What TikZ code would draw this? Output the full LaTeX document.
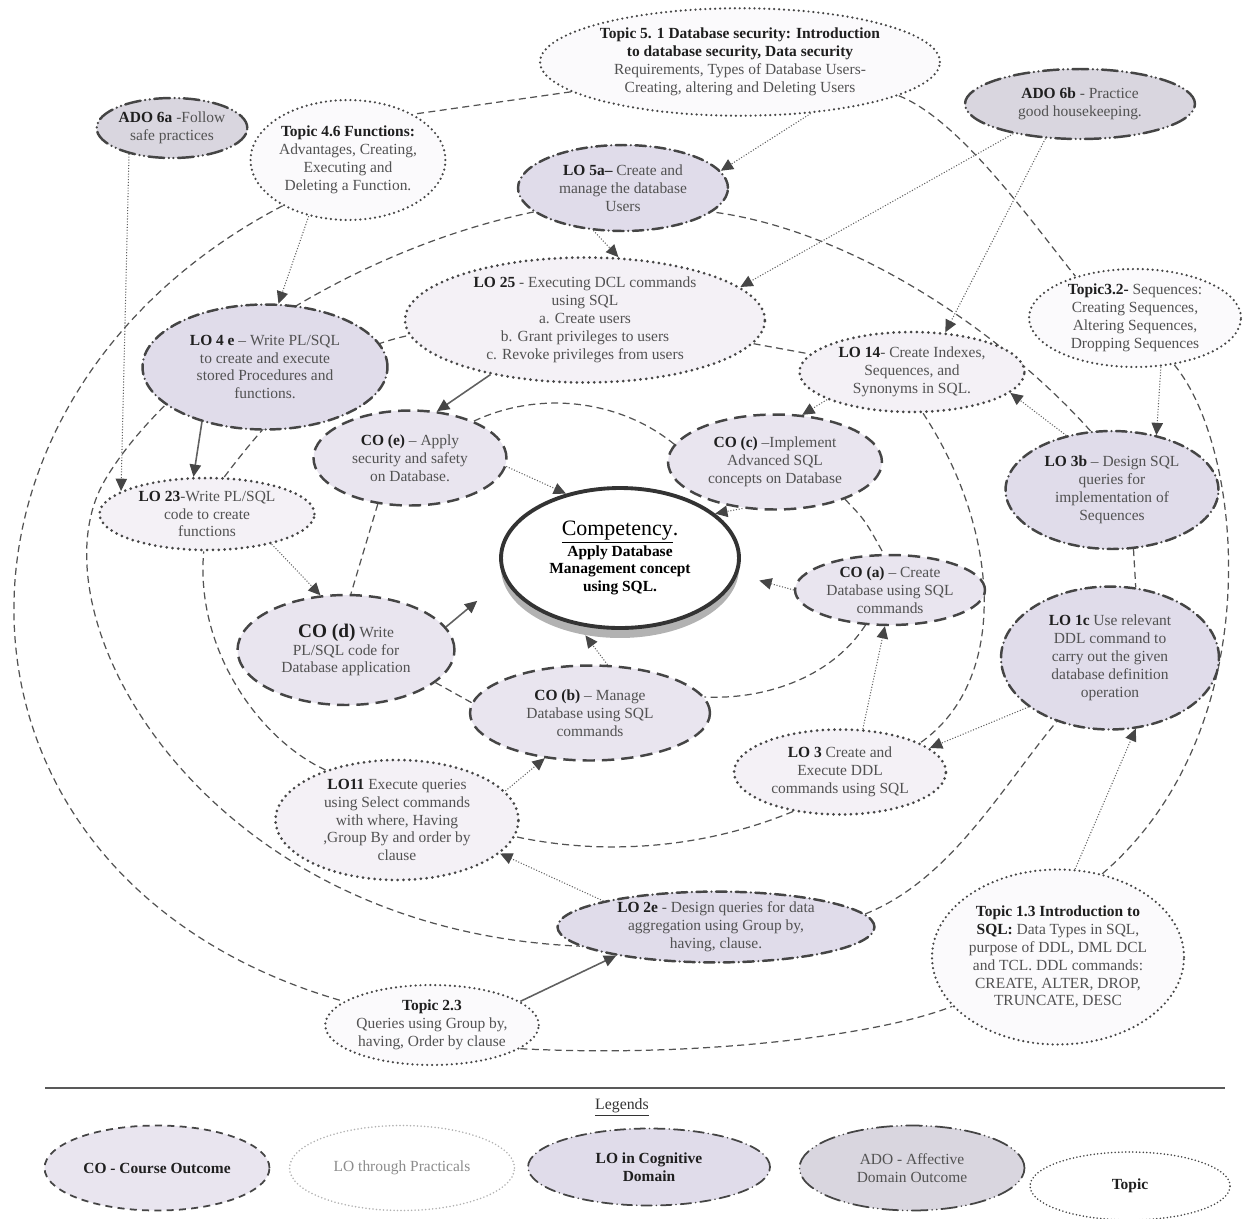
\documentclass[tikz,border=0pt]{standalone}
\usepackage{fontspec}
\setmainfont{Liberation Serif}
\usetikzlibrary{shapes.geometric,arrows.meta,backgrounds,shadows}

\definecolor{edge}{HTML}{454545}
\definecolor{cofill}{HTML}{E9E5EF}
\definecolor{locfill}{HTML}{E0DCEA}
\definecolor{lopfill}{HTML}{F4F1F6}
\definecolor{adofill}{HTML}{D9D6DF}
\definecolor{topfill}{HTML}{FBFAFC}

\tikzstyle{oval} = [ellipse, inner sep=0pt, align=center, font=\fontsize{8.8}{10.2}\selectfont, text=black!68]
\tikzstyle{co} = [oval, draw=edge, fill=cofill, line width=1.4pt, dash pattern=on 7pt off 4pt]
\tikzstyle{lop} = [oval, draw=edge, fill=lopfill, line width=1.7pt, line cap=round, dash pattern=on 0pt off 3.3pt]
\tikzstyle{loc} = [oval, draw=edge, fill=locfill, line width=1.4pt, line cap=round, dash pattern=on 6pt off 2.6pt on 0pt off 2.6pt]
\tikzstyle{ado} = [oval, draw=edge, fill=adofill, line width=1.4pt, line cap=round, dash pattern=on 9pt off 2.6pt on 0pt off 2.6pt on 0pt off 2.6pt]
\tikzstyle{topic} = [oval, draw=edge, fill=topfill, line width=1.4pt, line cap=round, dash pattern=on 0pt off 2.8pt]
\tikzstyle{comp} = [oval, draw=black!80, fill=white, line width=2.2pt, text=black, drop shadow={shadow xshift=0pt, shadow yshift=-0.2cm, fill=gray!60, opacity=1}]
\tikzstyle{ring} = [draw=gray!65!black, line width=0.7pt, dash pattern=on 4pt off 2.5pt]
\tikzstyle{link} = [draw=gray!75!black, line width=0.6pt, densely dotted, -{Triangle[length=7pt, width=6.5pt, color=gray!55!black]}]
\tikzstyle{slink} = [link, solid, line width=0.9pt]

\newcommand{\hd}[1]{\textbf{\color{black!88}#1}}

\begin{document}
\begin{tikzpicture}[x=0.02cm, y=-0.02cm]
\useasboundingbox (0,0) rectangle (1244,1218);

\node[topic, minimum width=8.0cm, minimum height=2.15cm] (t51) at (740,62) {\hd{Topic 5. 1 Database security: Introduction}\\ \hd{to database security, Data security}\\ Requirements, Types of Database Users-\\ Creating, altering and Deleting Users};
\node[ado, minimum width=2.84cm, minimum height=1.2cm] (ado6a) at (172,128) {\hd{ADO 6a} -Follow\\ safe practices};
\node[topic, minimum width=3.7cm, minimum height=2.4cm] (t46) at (348,160) {\hd{Topic 4.6 Functions:}\\ Advantages, Creating,\\ Executing and\\ Deleting a Function.};
\node[ado, minimum width=4.6cm, minimum height=1.4cm] (ado6b) at (1080,104) {\hd{ADO 6b} - Practice\\ good housekeeping.};
\node[loc, minimum width=4.2cm, minimum height=1.72cm] (lo5a) at (623,188) {\hd{LO 5a--} Create and\\ manage the database\\ Users};
\node[lop, minimum width=7.2cm, minimum height=2.5cm] (lo25) at (585,320) {\hd{LO 25} - Executing DCL commands\\ using SQL\\ a. Create users\\ b. Grant privileges to users\\ c. Revoke privileges from users};
\node[topic, minimum width=4.24cm, minimum height=1.96cm] (t32) at (1135,318) {\hd{Topic3.2-} Sequences:\\ Creating Sequences,\\ Altering Sequences,\\ Dropping Sequences};
\node[loc, minimum width=4.9cm, minimum height=2.5cm] (lo4e) at (265,367) {\hd{LO 4 e} -- Write PL/SQL\\ to create  and execute\\ stored Procedures and\\ functions.};
\node[lop, minimum width=4.5cm, minimum height=1.6cm] (lo14) at (912,372) {\hd{LO 14}- Create Indexes,\\ Sequences, and\\ Synonyms in SQL.};
\node[co, minimum width=3.86cm, minimum height=1.9cm] (coe) at (410,458) {\hd{CO (e)} -- Apply\\ security and safety\\ on Database.};
\node[co, minimum width=4.28cm, minimum height=1.9cm] (coc) at (775,462) {\hd{CO (c)} --Implement\\ Advanced SQL\\ concepts on Database};
\node[loc, minimum width=4.26cm, minimum height=2.36cm] (lo3b) at (1112,490) {\hd{LO 3b} -- Design SQL\\ queries for\\ implementation of\\ Sequences};
\node[lop, minimum width=4.3cm, minimum height=1.44cm] (lo23) at (207,514) {\hd{LO 23}-Write PL/SQL\\ code to create\\ functions};
\node[comp, minimum width=4.76cm, minimum height=2.8cm] (comp) at (620,558) {{\fontsize{12.5}{14}\selectfont\underline{Competency}.}\\ \textbf{Apply Database}\\ \textbf{Management concept}\\ \textbf{using SQL.}};
\node[co, minimum width=3.8cm, minimum height=1.4cm] (coa) at (890,590) {\hd{CO (a)} -- Create\\ Database using SQL\\ commands};
\node[loc, minimum width=4.36cm, minimum height=2.86cm] (lo1c) at (1110,658) {\hd{LO 1c} Use relevant\\ DDL command to\\ carry out the given\\ database definition\\ operation};
\node[co, minimum width=4.34cm, minimum height=2.2cm] (cod) at (346,650) {\hd{\fontsize{11}{12}\selectfont CO (d)} Write\\ PL/SQL code for\\ Database application};
\node[co, minimum width=4.8cm, minimum height=1.9cm] (cob) at (590,713) {\hd{CO (b)} -- Manage\\ Database using SQL\\ commands};
\node[lop, minimum width=4.24cm, minimum height=1.7cm] (lo3) at (840,772) {\hd{LO 3} Create and\\ Execute DDL\\ commands using SQL};
\node[lop, minimum width=4.86cm, minimum height=2.4cm] (lo11) at (397,820) {\hd{LO11} Execute queries\\ using Select commands\\ with where, Having\\ ,Group By and order by\\ clause};
\node[loc, minimum width=6.34cm, minimum height=1.36cm] (lo2e) at (716,927) {\hd{LO 2e} - Design queries for data\\ aggregation using Group by,\\ having, clause.};
\node[topic, minimum width=4.7cm, minimum height=3.5cm] (t13) at (1058,957) {\hd{Topic 1.3  Introduction to}\\ \hd{SQL:} Data Types in SQL,\\ purpose of DDL, DML DCL\\ and TCL.  DDL commands:\\ CREATE, ALTER, DROP,\\ TRUNCATE, DESC};
\node[topic, minimum width=4.1cm, minimum height=1.6cm] (t23) at (432,1025) {\hd{Topic 2.3}\\ Queries using Group by,\\ having, Order by clause};

\begin{pgfonlayer}{background}
\draw[ring] (t51.190) -- (t46.35);
\draw[ring] (t46.215) .. controls (-90,400) and (-80,880) .. (t23.165);
\draw[ring] (t23.-15) .. controls (700,1058) and (880,1035) .. (t13.205);
\draw[ring] (t13.62) .. controls (1270,730) and (1245,450) .. (t32.310);
\draw[ring] (t51.-12) .. controls (960,120) and (1030,220) .. (t32.145);
\draw[ring] (lo5a.195) .. controls (350,250) and (170,370) .. (105,480) .. controls (27,612) and (200,930) .. (lo2e.188);
\draw[ring] (lo2e.5) .. controls (950,880) and (1000,790) .. (lo1c.230);
\draw[ring] (lo3b.-70) -- (lo1c.70);
\draw[ring] (lo3b.110) .. controls (1000,330) and (850,230) .. (lo5a.-15);
\draw[ring] (lo25.-8) -- (lo14.170);
\draw[ring] (lo14.-75) .. controls (1000,530) and (1010,680) .. (lo3.20);
\draw[ring] (lo3.220) .. controls (700,850) and (600,855) .. (lo11.-8);
\draw[ring] (lo11.145) .. controls (260,740) and (195,650) .. (lo23.-95);
\draw[ring] (lo23.65) .. controls (290,390) and (340,350) .. (lo25.185);
\draw[ring] (coe.30) .. controls (540,390) and (620,400) .. (coc.170);
\draw[ring] (coc.-28) .. controls (865,520) .. (coa.100);
\draw[ring] (coa.235) .. controls (830,680) and (760,700) .. (cob.8);
\draw[ring] (cob.175) -- (cod.-20);
\draw[ring] (coe.-125) -- (cod.85);

\draw[link] (t51.-36) -- (lo5a.10);
\draw[link] (ado6b.204) -- (lo25.12);
\draw[link] (ado6b.225) -- (lo14.50);
\draw[link] (ado6a.211) -- (lo23.165);
\draw[link] (t46.235) -- (lo4e.78);
\draw[link] (lo5a.235) -- (lo25.62);
\draw[slink] (lo25.210) -- (coe.60);
\draw[slink] (lo4e.221) -- (lo23.110);
\draw[link] (lo23.-25) -- (cod.115);
\draw[link] (coe.-5) -- (comp.130);
\draw[link] (coc.235) -- (comp.25);
\draw[slink, shorten >=0.7cm] (cod.13) -- (comp.190);
\draw[link, shorten >=0.25cm] (cob.70) -- (comp.238);
\draw[link, shorten >=0.45cm] (coa.180) -- (comp.-8);
\draw[link] (lo14.198) -- (coc.60);
\draw[link] (lo3b.130) -- (lo14.-12);
\draw[link] (t32.-62) -- (lo3b.51);
\draw[link] (lo1c.211) -- (lo3.15);
\draw[link] (lo3.62) -- (coa.262);
\draw[link] (lo11.15) -- (cob.225);
\draw[link] (lo2e.167) -- (lo11.-18);
\draw[slink] (t23.15) -- (lo2e.196);
\draw[link] (t13.79) -- (lo1c.-70);
\end{pgfonlayer}

\draw[gray!70!black, line width=0.8pt] (45,1088) -- (1225,1088);
\node[font=\fontsize{9}{10}\selectfont, text=black!80] (lgd) at (622,1107) {\underline{Legends}};
\node[co, line width=1pt, dash pattern=on 4pt off 3pt, minimum width=4.5cm, minimum height=1.7cm] (kco) at (157,1168) {\hd{CO - Course Outcome}};
\node[lop, draw=gray!60, line width=1pt, dash pattern=on 0pt off 2pt, fill=white, text=black!45, minimum width=4.5cm, minimum height=1.7cm] (klop) at (402,1168) {LO through Practicals};
\node[loc, line width=1pt, minimum width=4.84cm, minimum height=1.54cm] (kloc) at (649,1167) {\hd{LO in Cognitive}\\ \hd{Domain}};
\node[ado, line width=1pt, minimum width=4.5cm, minimum height=1.7cm] (kado) at (912,1168) {ADO - Affective\\ Domain Outcome};
\node[topic, line width=1pt, dash pattern=on 0pt off 2pt, fill=white, minimum width=4cm, minimum height=1.36cm] (ktop) at (1130,1186) {\hd{Topic}};
\end{tikzpicture}
\end{document}
